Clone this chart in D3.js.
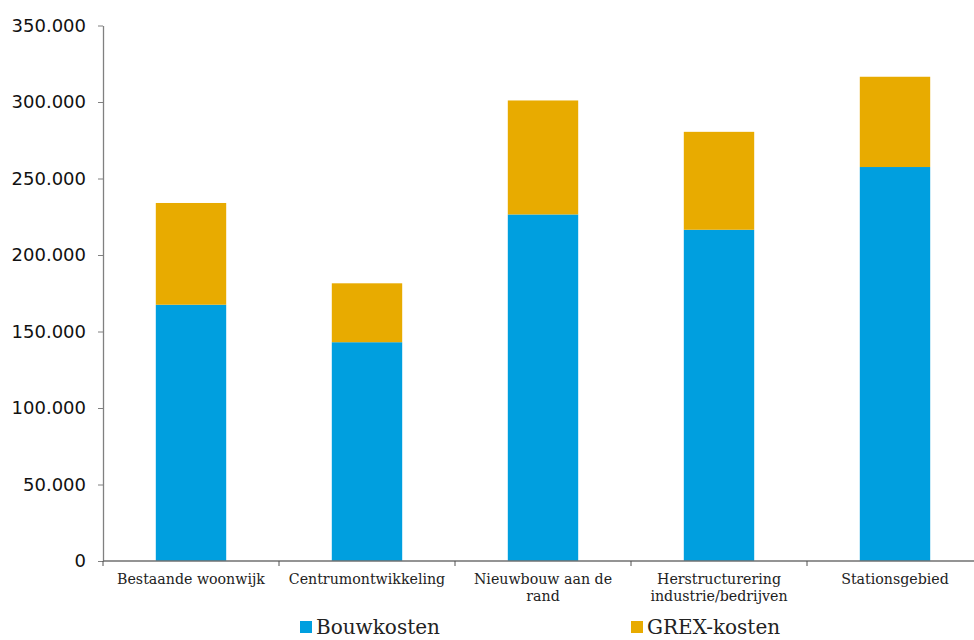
<!DOCTYPE html>
<html>
<head>
<meta charset="utf-8">
<script src="https://cdn.jsdelivr.net/npm/d3@7"></script>
<style>
  body { margin: 0; background: #fff; }
  svg { display: block; }
</style>
</head>
<body>
<svg id="chart" width="974" height="640"></svg>
<script>
// Kosten per woning naar type locatie
const categories = [
  ["Bestaande woonwijk"],
  ["Centrumontwikkeling"],
  ["Nieuwbouw aan de", "rand"],
  ["Herstructurering", "industrie/bedrijven"],
  ["Stationsgebied"]
];
const bouwkosten = [167500, 143000, 226500, 216500, 257500];
const grexkosten = [66500, 38500, 74500, 64000, 59000];
const seriesNames = ["Bouwkosten", "GREX-kosten"];
const seriesColors = ["#009FDF", "#E8AB00"];
const yTicks = [0, 50000, 100000, 150000, 200000, 250000, 300000, 350000];

const svg = d3.select("#chart");
const plotLeft = 103, plotRight = 983, plotTop = 25.5, plotBottom = 561;

const keys = categories.map(c => c.join(" "));
const rows = keys.map((k, i) => ({ key: k, b: bouwkosten[i], g: grexkosten[i] }));
const stack = d3.stack().keys(["b", "g"])(rows);

const x = d3.scaleBand().domain(keys).range([plotLeft, plotRight]).paddingInner(0.6).paddingOuter(0.3);
const y = d3.scaleLinear().domain([0, 350000]).range([plotBottom, plotTop]);

const fmt = v => d3.format(",")(v).replace(/,/g, ".");

// bars
stack.forEach((layer, si) => {
  svg.append("g").selectAll("rect").data(layer).join("rect")
    .attr("x", (d, i) => x(keys[i]))
    .attr("width", x.bandwidth())
    .attr("y", d => y(d[1]))
    .attr("height", d => y(d[0]) - y(d[1]))
    .attr("fill", seriesColors[si]);
});

// y axis
const yAxis = svg.append("g")
  .attr("transform", `translate(${plotLeft},0)`)
  .call(d3.axisLeft(y).tickValues(yTicks).tickFormat(fmt).tickSize(5).tickSizeOuter(0));
yAxis.select(".domain").attr("stroke", "#808080").attr("stroke-width", 1.3);
yAxis.selectAll(".tick line").attr("stroke", "#808080");
yAxis.selectAll("text")
  .attr("font-family", "'DejaVu Sans', Verdana, sans-serif")
  .attr("font-size", 18).attr("fill", "#111").attr("x", -17);

// x axis with ticks between categories
const xAxis = svg.append("g").attr("transform", `translate(0,${plotBottom})`);
xAxis.append("line").attr("x1", plotLeft).attr("x2", plotRight).attr("stroke", "#707070").attr("stroke-width", 1.3);
d3.range(keys.length + 1).forEach(i => {
  const xx = plotLeft + i * (plotRight - plotLeft) / keys.length;
  xAxis.append("line").attr("x1", xx).attr("x2", xx).attr("y1", 0).attr("y2", 5).attr("stroke", "#505050");
});
categories.forEach((lines, i) => {
  const cx = x(keys[i]) + x.bandwidth() / 2;
  const t = xAxis.append("text")
    .attr("x", cx)
    .attr("y", 23)
    .attr("text-anchor", "middle")
    .attr("font-family", "'DejaVu Serif', 'Liberation Serif', serif")
    .attr("font-size", 14.2).attr("fill", "#222");
  lines.forEach((ln, j) => t.append("tspan").attr("x", cx).attr("dy", j ? 17 : 0).text(ln));
});

// legend
const legendX = [300, 631];
seriesNames.forEach((n, i) => {
  const g = svg.append("g").attr("transform", `translate(${legendX[i]},621)`);
  g.append("rect").attr("width", 12).attr("height", 12).attr("fill", seriesColors[i]);
  g.append("text").attr("x", 16).attr("y", 13)
    .attr("font-family", "'DejaVu Serif', 'Liberation Serif', serif")
    .attr("font-size", 20).attr("fill", "#222").text(n);
});
</script>
</body>
</html>
